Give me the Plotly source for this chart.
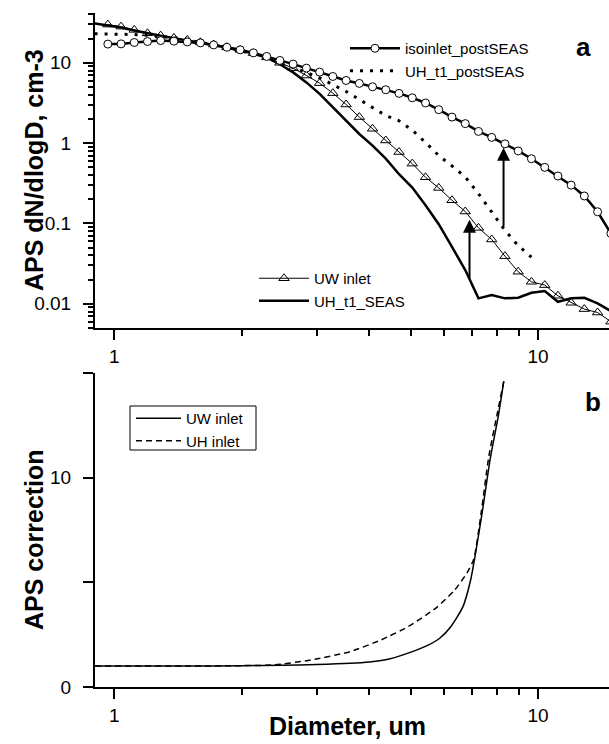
import numpy as np
import plotly.graph_objects as go

# ---------------- data ----------------
# APS channel mid-point diameters (um)
ch_d = [0.898, 0.965, 1.037, 1.114, 1.197, 1.286, 1.382, 1.486, 1.596, 1.715,
        1.843, 1.981, 2.129, 2.288, 2.458, 2.642, 2.839, 3.051, 3.278, 3.523,
        3.786, 4.068, 4.371, 4.698, 5.048, 5.425, 5.829, 6.264, 6.732, 7.234,
        7.774, 8.354, 8.977, 9.647, 10.37, 11.14, 11.97, 12.86, 13.82, 14.86]

iso_d = ch_d[1:]
iso_post = [17.1, 17.2, 17.9, 18.4, 18.9, 18.6, 18.2, 17.7, 16.7, 15.6,
            14.5, 13.3, 12.0, 10.7, 9.63, 8.59, 7.66, 6.76, 6.03, 5.54,
            5.03, 4.62, 4.16, 3.67, 3.16, 2.61, 2.11, 1.75, 1.40, 1.18,
            0.98, 0.80, 0.64, 0.50, 0.39, 0.30, 0.22, 0.14, 0.075]

uh_post_d = ch_d[:34]
uh_post = [23.0, 22.9, 22.7, 22.5, 22.1, 21.5, 20.5, 19.3, 18.0, 16.8,
           15.5, 14.2, 12.9, 11.5, 10.0, 8.8, 7.6, 6.5, 5.4, 4.4,
           3.5, 2.8, 2.2, 1.9, 1.45, 1.02, 0.70, 0.52, 0.38, 0.235,
           0.14, 0.082, 0.053, 0.038]

uw_d = ch_d[1:]
uw_inlet = [29.9, 28.2, 25.7, 23.3, 21.8, 20.4, 19.3, 18.0, 16.9, 15.6,
            14.5, 13.2, 11.7, 10.0, 8.57, 6.95, 5.58, 4.19, 3.03, 2.11,
            1.51, 1.08, 0.775, 0.556, 0.376, 0.277, 0.1945, 0.141, 0.0882, 0.0632,
            0.0392, 0.0251, 0.0188, 0.0171, 0.0126, 0.0103, 0.0086, 0.0078, 0.0060]

uh_seas_d = ch_d
uh_seas = [31.0, 29.5, 27.5, 25.3, 23.3, 21.7, 20.3, 19.1, 17.9, 16.7,
           15.5, 14.3, 13.0, 11.6, 9.6, 7.6, 5.7, 4.1, 2.8, 1.9,
           1.3, 0.93, 0.64, 0.41, 0.28, 0.169, 0.098, 0.0512, 0.0263, 0.0117,
           0.01285, 0.0117, 0.0119, 0.01374, 0.01442, 0.0106, 0.0117, 0.0119, 0.01014, 0.0081]

# arrows (x, from, to)
arrow_x = [6.89, 8.29]
arrow_from = [0.0199, 0.0883]
arrow_to = [0.111, 0.875]

# panel b: APS correction factors
corr_d = [0.9, 1.5, 2.0, 2.5, 3.0, 3.6, 4.0, 4.45, 5.05, 5.5, 5.86, 6.23, 6.65, 6.93, 7.08, 7.39, 7.71, 8.05, 8.3]
corr_uw = [1.0, 1.0, 1.02, 1.04, 1.07, 1.13, 1.2, 1.34, 1.69, 2.0, 2.33, 2.89, 3.84, 5.1, 6.1, 8.4, 10.9, 12.9, 14.6]
corr_uh_d = [0.9, 1.5, 2.0, 2.36, 2.91, 3.6, 4.26, 4.94, 5.74, 6.36, 6.79, 7.05, 7.35, 7.65, 8.0, 8.3]
corr_uh = [1.0, 1.0, 1.02, 1.05, 1.29, 1.69, 2.25, 2.89, 3.77, 4.64, 5.44, 6.1, 8.4, 11.0, 13.0, 14.6]

x_major = [1, 10]
x_minor = [2, 3, 4, 5, 6, 7, 8, 9, 20]
y_major = [0.01, 0.1, 1, 10]
y_major_text = ["0.01", "0.1", "1", "10"]
y_minor = [m * 10.0 ** e for e in (-3, -2, -1, 0, 1) for m in range(2, 10)]
yb_ticks = [0, 5, 10, 15]
yb_text = ["0", "", "10", ""]

# ---------------- figure ----------------
FONT = "Liberation Sans, Arial, Helvetica, sans-serif"
W, H = 609, 744
PL, PR, PT, PB = 95, 609, 13, 687   # plot area in screen pixels
L, R, T, B = PL, W - PR, PT, H - PB


def py(sy):
    return (PB - sy) / (PB - PT)


def px(sx):
    return (sx - PL) / (PR - PL)


top_dom = [py(328), 1.0]
bot_dom = [0.0, py(373)]
xr = [np.log10(0.9), (PR - 114) / 424]

fig = go.Figure()

fig.add_trace(go.Scatter(x=uh_seas_d, y=uh_seas, mode="lines", name="UH_t1_SEAS",
                         line=dict(color="black", width=2.5), xaxis="x", yaxis="y",
                         legend="legend2"))
fig.add_trace(go.Scatter(x=uw_d, y=uw_inlet, mode="lines+markers", name="UW inlet",
                         line=dict(color="black", width=1),
                         marker=dict(symbol="triangle-up-open", size=9, color="black",
                                     line=dict(width=1)),
                         xaxis="x", yaxis="y", legend="legend2"))
fig.add_trace(go.Scatter(x=uh_post_d, y=uh_post, mode="lines", name="UH_t1_postSEAS",
                         line=dict(color="black", width=3, dash="3px,7px"),
                         xaxis="x", yaxis="y", legend="legend"))
fig.add_trace(go.Scatter(x=iso_d, y=iso_post, mode="lines+markers", name="isoinlet_postSEAS",
                         line=dict(color="black", width=2.5),
                         marker=dict(symbol="circle", size=8, color="white",
                                     line=dict(width=1, color="black")),
                         xaxis="x", yaxis="y", legend="legend"))

fig.add_trace(go.Scatter(x=corr_d, y=corr_uw, mode="lines", name="UW inlet",
                         line=dict(color="black", width=1.5, shape="spline", smoothing=0.6),
                         xaxis="x2", yaxis="y2", legend="legend3"))
fig.add_trace(go.Scatter(x=corr_uh_d, y=corr_uh, mode="lines", name="UH inlet",
                         line=dict(color="black", width=1.5, dash="6px,4px",
                                   shape="spline", smoothing=0.6),
                         xaxis="x2", yaxis="y2", legend="legend3"))

tickfont = dict(family=FONT, size=19, color="black")
common_x = dict(type="log", range=xr, showgrid=False, zeroline=False,
                showline=True, linecolor="black", linewidth=2,
                tickvals=x_major, ticktext=["1", "10"], ticks="outside",
                ticklen=10, tickwidth=2, tickcolor="black", tickfont=tickfont,
                ticklabelstandoff=0,
                minor=dict(tickvals=x_minor, ticks="outside", ticklen=6,
                           tickwidth=2, tickcolor="black"))
top_x = dict(type="log", range=xr, showgrid=False, zeroline=False,
             showline=True, linecolor="black", linewidth=2, side="top",
             tickvals=x_major, ticks="inside", ticklen=10, tickwidth=2,
             tickcolor="black", showticklabels=False,
             minor=dict(tickvals=x_minor, ticks="inside", ticklen=6,
                        tickwidth=2, tickcolor="black"))

legfont = dict(family=FONT, size=15, color="black")
fig.update_layout(
    width=W, height=H,
    margin=dict(l=L, r=R, t=T, b=B, autoexpand=False),
    paper_bgcolor="white", plot_bgcolor="white",
    font=dict(family=FONT, color="black"),
    xaxis=dict(**common_x, anchor="y", domain=[0, 1]),
    xaxis2=dict(**common_x, anchor="y2", domain=[0, 1]),
    xaxis3=dict(**top_x, anchor="y", overlaying="x"),
    xaxis4=dict(**top_x, anchor="y2", overlaying="x2"),
    yaxis=dict(type="log", domain=top_dom, anchor="x",
               range=[np.log10(0.005), 1.62], showgrid=False, zeroline=False,
               showline=True, linecolor="black", linewidth=2,
               tickvals=y_major, ticktext=y_major_text, ticks="outside",
               ticklen=10, tickwidth=2, tickcolor="black", tickfont=tickfont,
               ticklabelstandoff=8,
               minor=dict(tickvals=y_minor, ticks="outside", ticklen=5,
                          tickwidth=1.5, tickcolor="black")),
    yaxis2=dict(domain=bot_dom, anchor="x2", range=[0, 15], showgrid=False,
                zeroline=False, showline=True, linecolor="black", linewidth=2,
                tickvals=yb_ticks, ticktext=yb_text, ticks="outside",
                ticklen=10, tickwidth=2, tickcolor="black", tickfont=tickfont,
                ticklabelstandoff=8),
    legend=dict(x=px(345), y=py(32), xanchor="left", yanchor="top",
                bgcolor="rgba(0,0,0,0)", traceorder="reversed",
                font=legfont, itemwidth=50),
    legend2=dict(x=px(254), y=py(262), xanchor="left", yanchor="top",
                 bgcolor="rgba(0,0,0,0)", traceorder="reversed",
                 font=legfont, itemwidth=50),
    legend3=dict(x=px(131), y=py(402), xanchor="left", yanchor="top",
                 bgcolor="rgba(0,0,0,0)", font=legfont, itemwidth=45),
    showlegend=True,
    shapes=[dict(type="rect", xref="paper", yref="paper",
                 x0=px(130), x1=px(256), y0=py(450), y1=py(406),
                 line=dict(color="black", width=1), fillcolor="rgba(0,0,0,0)",
                 layer="above")],
)

annotations = [
    dict(text="<b>a</b>", x=px(583), y=py(47), xref="paper", yref="paper",
         xanchor="center", yanchor="middle",
         showarrow=False, font=dict(family=FONT, size=26)),
    dict(text="<b>b</b>", x=px(593), y=py(402), xref="paper", yref="paper",
         xanchor="center", yanchor="middle",
         showarrow=False, font=dict(family=FONT, size=26)),
    dict(text="<b>APS dN/dlogD, cm-3</b>", x=px(34), y=py(170), xref="paper",
         yref="paper", textangle=-90, showarrow=False, xanchor="center",
         yanchor="middle", font=dict(family=FONT, size=25)),
    dict(text="<b>APS correction</b>", x=px(34), y=py(540), xref="paper",
         yref="paper", textangle=-90, showarrow=False, xanchor="center",
         yanchor="middle", font=dict(family=FONT, size=25)),
    dict(text="<b>Diameter, um</b>", x=px(347), y=py(726), xref="paper",
         yref="paper", showarrow=False, xanchor="center", yanchor="middle",
         font=dict(family=FONT, size=25)),
]
for xa, y0, y1 in zip(arrow_x, arrow_from, arrow_to):
    annotations.append(dict(x=np.log10(xa), y=np.log10(y1), ax=np.log10(xa),
                            ay=np.log10(y0), xref="x", yref="y", axref="x",
                            ayref="y", showarrow=True, arrowhead=2,
                            arrowsize=1.3, arrowwidth=2, arrowcolor="black",
                            text=""))
fig.update_layout(annotations=annotations)

fig.write_html("out.html",
               config={"displayModeBar": False},
               post_script="document.body.style.margin='0';"
                           "document.documentElement.style.overflow='hidden';")
